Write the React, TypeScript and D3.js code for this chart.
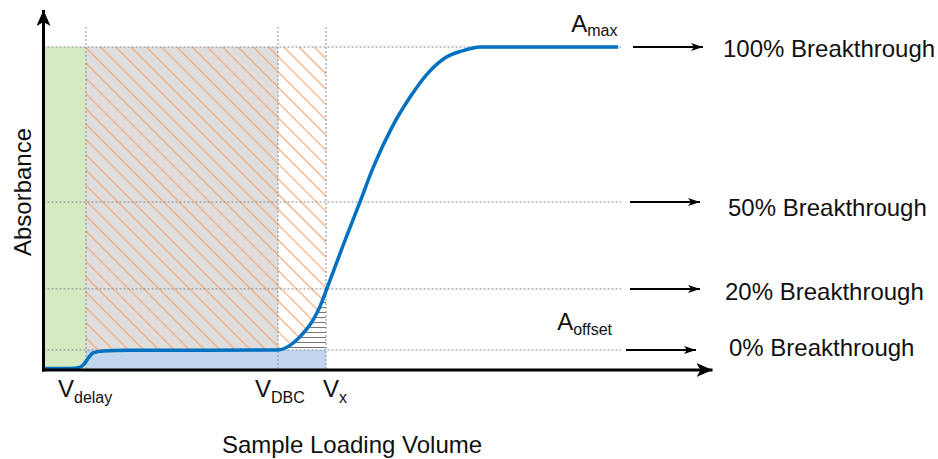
import React, { useEffect, useRef } from 'react';
import * as d3 from 'd3';

// breakthrough curve (volume in arbitrary units, absorbance relative to Amax)
const volume = [0, 4, 5.5, 6.2, 6.7, 7.4, 8.9, 12.5, 35, 36.9, 38.3, 40.3, 41.3, 42.4, 44.8, 47.3, 49.3, 52.1, 54.8, 57.5, 60, 62.6, 65.3, 85.9];
const absorbance = [0.005, 0.005, 0.009, 0.022, 0.037, 0.053, 0.059, 0.061, 0.062, 0.077, 0.102, 0.155, 0.195, 0.254, 0.387, 0.52, 0.628, 0.752, 0.845, 0.92, 0.966, 0.988, 1.0, 1.0];

// marker volumes
const vDelay = 6.35;
const vDBC = 35.05;
const vX = 42.23;

// breakthrough levels
const levelValues = [1.0, 0.52, 0.251, 0.062];
const levelNames = ['100% Breakthrough', '50% Breakthrough', '20% Breakthrough', '0% Breakthrough'];
const aMax = 1.0;
const aOffset = 0.062;

const FONT = '"Liberation Sans", Arial, sans-serif';

const App = () => {
  const ref = useRef<SVGSVGElement>(null);

  useEffect(() => {
    const svg = d3.select(ref.current);
    svg.selectAll('*').remove();

    const x = d3.scaleLinear().domain([0, 100]).range([43.5, 712.5]);
    const y = d3.scaleLinear().domain([0, 1]).range([370, 47]);
    const xEnd = d3.max(volume) as number;

    const defs = svg.append('defs');

    // orange diagonal hatch
    const hatch = defs.append('pattern')
      .attr('id', 'hatch')
      .attr('patternUnits', 'userSpaceOnUse')
      .attr('width', 10.8)
      .attr('height', 10.8)
      .attr('patternTransform', 'rotate(-45)');
    hatch.append('line')
      .attr('x1', 5.4).attr('y1', -1).attr('x2', 5.4).attr('y2', 11.8)
      .attr('stroke', '#F2A877').attr('stroke-width', 1.2);

    // horizontal lines under the curve
    const hlines = defs.append('pattern')
      .attr('id', 'hlines')
      .attr('patternUnits', 'userSpaceOnUse')
      .attr('width', 10)
      .attr('height', 5);
    hlines.append('rect').attr('width', 10).attr('height', 5).attr('fill', '#fff');
    hlines.append('line')
      .attr('x1', 0).attr('y1', 2.5).attr('x2', 10).attr('y2', 2.5)
      .attr('stroke', '#666').attr('stroke-width', 0.9);

    const arrowHead = (id: string, w: number, h: number) => {
      defs.append('marker')
        .attr('id', id)
        .attr('markerUnits', 'userSpaceOnUse')
        .attr('viewBox', `0 0 ${w} ${h}`)
        .attr('refX', w)
        .attr('refY', h / 2)
        .attr('markerWidth', w)
        .attr('markerHeight', h)
        .attr('orient', 'auto')
        .append('path')
          .attr('d', `M0,0 L${w},${h / 2} L0,${h} L${w * 0.25},${h / 2} Z`)
          .attr('fill', '#000');
    };
    arrowHead('bigArrow', 16, 14);
    arrowHead('smallArrow', 12, 8);

    const clip = defs.append('clipPath').attr('id', 'underClip');
    clip.append('rect')
      .attr('x', x(vDBC))
      .attr('y', y(aMax))
      .attr('width', x(vX) - x(vDBC))
      .attr('height', y(aOffset) - y(aMax));

    // regions
    svg.append('rect')
      .attr('x', x(0)).attr('y', y(aMax))
      .attr('width', x(vDelay) - x(0)).attr('height', y(0) - y(aMax))
      .attr('fill', '#D5EAC3');

    svg.append('rect')
      .attr('x', x(vDelay)).attr('y', y(aMax))
      .attr('width', x(vDBC) - x(vDelay)).attr('height', y(aOffset) - y(aMax))
      .attr('fill', '#DFDDDE');

    svg.append('rect')
      .attr('x', x(vDelay)).attr('y', y(aMax))
      .attr('width', x(vX) - x(vDelay)).attr('height', y(aOffset) - y(aMax))
      .attr('fill', 'url(#hatch)');

    svg.append('rect')
      .attr('x', x(vDelay)).attr('y', y(aOffset))
      .attr('width', x(vX) - x(vDelay)).attr('height', y(0) - y(aOffset))
      .attr('fill', '#BFD6EE');

    const area = d3.area<number>()
      .x((d, i) => x(volume[i]))
      .y0(y(aOffset))
      .y1(d => y(d))
      .curve(d3.curveMonotoneX);

    svg.append('path')
      .attr('d', area(absorbance))
      .attr('fill', 'url(#hlines)')
      .attr('clip-path', 'url(#underClip)');

    // dotted guides
    [vDelay, vDBC, vX].forEach(v => {
      svg.append('line')
        .attr('x1', x(v)).attr('x2', x(v))
        .attr('y1', y(1.062)).attr('y2', y(0))
        .attr('stroke', '#8a8a8a').attr('stroke-width', 1)
        .attr('stroke-dasharray', '2,2');
    });
    levelValues.forEach(v => {
      svg.append('line')
        .attr('x1', x(0)).attr('x2', x(xEnd) + 3)
        .attr('y1', y(v)).attr('y2', y(v))
        .attr('stroke', '#8a8a8a').attr('stroke-width', 1)
        .attr('stroke-dasharray', '2,2');
    });

    // curve
    const line = d3.line<number>()
      .x((d, i) => x(volume[i]))
      .y(d => y(d))
      .curve(d3.curveMonotoneX);

    svg.append('path')
      .attr('d', line(absorbance))
      .attr('fill', 'none')
      .attr('stroke', '#0070C0')
      .attr('stroke-width', 3.5)
      .attr('stroke-linejoin', 'round');

    // axes
    svg.append('line')
      .attr('x1', x(0)).attr('y1', y(0) + 1.5)
      .attr('x2', x(0)).attr('y2', 10)
      .attr('stroke', '#000').attr('stroke-width', 3)
      .attr('marker-end', 'url(#bigArrow)');
    svg.append('line')
      .attr('x1', x(0) - 1.5).attr('y1', y(0))
      .attr('x2', x(100)).attr('y2', y(0))
      .attr('stroke', '#000').attr('stroke-width', 3)
      .attr('marker-end', 'url(#bigArrow)');

    // breakthrough arrows and labels
    const arrowStarts = [633, 630, 630, 626];
    const labelX = [723, 728, 725, 729];
    const labelDy = [9.5, 14, 11.5, 6];
    levelValues.forEach((v, i) => {
      svg.append('line')
        .attr('x1', arrowStarts[i]).attr('x2', arrowStarts[i] + 70)
        .attr('y1', y(v)).attr('y2', y(v))
        .attr('stroke', '#000').attr('stroke-width', 2)
        .attr('marker-end', 'url(#smallArrow)');
      svg.append('text')
        .attr('x', labelX[i])
        .attr('y', y(v) + labelDy[i])
        .attr('font-family', FONT)
        .attr('font-size', 24)
        .attr('fill', '#111')
        .text(levelNames[i]);
    });

    const subLabel = (px: number, py: number, main: string, sub: string, dy: number) => {
      const t = svg.append('text')
        .attr('x', px).attr('y', py)
        .attr('font-family', FONT)
        .attr('font-size', 24)
        .attr('fill', '#111');
      t.append('tspan').text(main);
      t.append('tspan').attr('dy', dy).attr('font-size', 16).text(sub);
    };

    subLabel(x(vDelay) - 28, 397, 'V', 'delay', 6);
    subLabel(x(vDBC) - 23, 397, 'V', 'DBC', 6);
    subLabel(x(vX) - 3, 397, 'V', 'x', 6);
    subLabel(x(xEnd) - 47, y(aMax) - 15, 'A', 'max', 4);
    subLabel(x(xEnd) - 61, y(aOffset) - 20, 'A', 'offset', 5);

    // axis titles
    svg.append('text')
      .attr('x', 352).attr('y', 453)
      .attr('text-anchor', 'middle')
      .attr('font-family', FONT)
      .attr('font-size', 24)
      .attr('fill', '#111')
      .text('Sample Loading Volume');

    svg.append('text')
      .attr('transform', 'translate(31,192) rotate(-90)')
      .attr('text-anchor', 'middle')
      .attr('font-family', FONT)
      .attr('font-size', 24)
      .attr('fill', '#111')
      .text('Absorbance');
  }, []);

  return (
    <svg
      ref={ref}
      width={938}
      height={459}
      style={{ position: 'absolute', left: 0, top: 0, background: '#fff' }}
    />
  );
};

export default App;
